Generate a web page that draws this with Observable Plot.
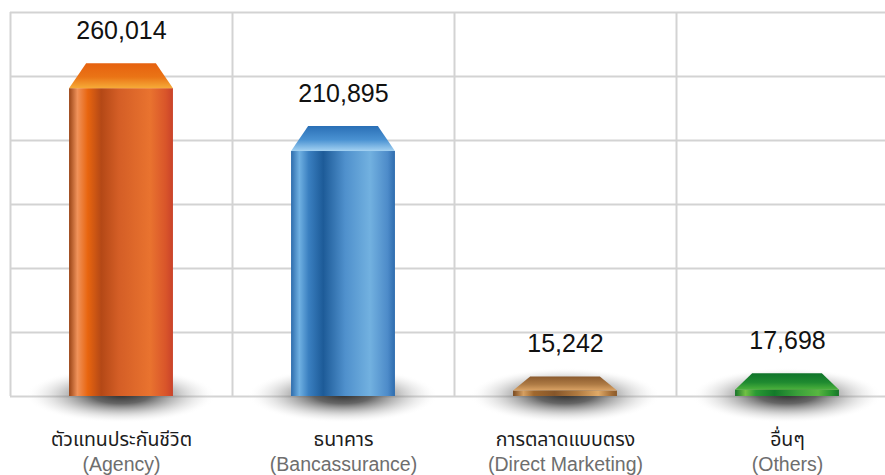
<!DOCTYPE html>
<html><head><meta charset="utf-8">
<script src="https://cdn.jsdelivr.net/npm/d3@7"></script>
<script src="https://cdn.jsdelivr.net/npm/@observablehq/plot@0.6"></script>
<style>
html,body{margin:0;padding:0;background:#fff;overflow:hidden;}
#chart svg{display:block;overflow:hidden;}
</style>
</head><body>
<svg width="0" height="0" style="position:absolute"><defs id="grads"></defs></svg>
<div id="chart"></div>
<script>
// ---- data ----
const categoriesTh = ["ตัวแทนประกันชีวิต", "ธนาคาร", "การตลาดแบบตรง", "อื่นๆ"];
const categoriesEn = ["(Agency)", "(Bancassurance)", "(Direct Marketing)", "(Others)"];
const values = [260014, 210895, 15242, 17698];
const yTicks = [0, 50000, 100000, 150000, 200000, 250000, 300000];

// ---- styles (gradients) ----
const bodyStops = [
  [[0,"#9a4416"],[0.08,"#f0925a"],[0.18,"#e8650f"],[0.31,"#b44816"],[0.48,"#d45e26"],[0.78,"#e9732f"],[0.93,"#d9552a"],[1,"#c9422a"]],
  [[0,"#2d6cac"],[0.08,"#6fb0e2"],[0.17,"#3a7fc0"],[0.31,"#1d5b98"],[0.52,"#4f90cc"],[0.76,"#72b1e0"],[0.93,"#4d8bc9"],[1,"#2e6cae"]],
  [[0,"#7a4a20"],[0.1,"#d6a062"],[0.2,"#a0682e"],[0.4,"#86562a"],[0.62,"#b07a40"],[0.82,"#e0aa68"],[0.95,"#a06a34"],[1,"#8a5a2a"]],
  [[0,"#17742a"],[0.1,"#72c044"],[0.2,"#2a9a34"],[0.38,"#137a2a"],[0.6,"#3aa03a"],[0.8,"#58b640"],[0.94,"#24902e"],[1,"#17742a"]]
];
const capStops = [
  [[0,"#e6610f"],[0.55,"#ea7416"],[1,"#f6ab38"]],
  [[0,"#2a6fb6"],[0.55,"#4a92d2"],[1,"#a4d2f2"]],
  [[0,"#8a5a2e"],[0.55,"#ad7a44"],[1,"#dca466"]],
  [[0,"#0f742a"],[0.55,"#1f8a30"],[1,"#4cb23c"]]
];

const ns = "http://www.w3.org/2000/svg";
const defs = document.getElementById("grads");
function grad(id, stops, vertical) {
  const g = document.createElementNS(ns, "linearGradient");
  g.setAttribute("id", id);
  g.setAttribute("x1", "0"); g.setAttribute("y1", "0");
  g.setAttribute("x2", vertical ? "0" : "1"); g.setAttribute("y2", vertical ? "1" : "0");
  for (const [o, c] of stops) {
    const s = document.createElementNS(ns, "stop");
    s.setAttribute("offset", o); s.setAttribute("stop-color", c);
    g.appendChild(s);
  }
  defs.appendChild(g);
}
bodyStops.forEach((s, i) => grad("body" + i, s, false));
capStops.forEach((s, i) => grad("cap" + i, s, true));
{
  const r = document.createElementNS(ns, "radialGradient");
  r.setAttribute("id", "shadow");
  [[0,"#333333",1],[0.3,"#4a4a4a",0.85],[0.6,"#808080",0.45],[0.85,"#bbbbbb",0.15],[1,"#ffffff",0]].forEach(([o,c,op]) => {
    const s = document.createElementNS(ns, "stop");
    s.setAttribute("offset", o); s.setAttribute("stop-color", c); s.setAttribute("stop-opacity", op);
    r.appendChild(s);
  });
  defs.appendChild(r);
}

// ---- derived geometry ----
const hw = 0.234, inset = 0.077, shw = 0.43;
const rows = values.map((v, i) => ({
  i, th: categoriesTh[i], en: categoriesEn[i], value: v,
  bodyTop: v - Math.min(19500, 0.72 * v)
}));

const marks = [
  Plot.ruleY(yTicks, {x1: 0, x2: 4, stroke: "#d3d3d3", strokeWidth: 2}),
  Plot.ruleX([0, 1, 2, 3], {y1: 0, y2: 300000, stroke: "#d3d3d3", strokeWidth: 2}),
  Plot.rect(rows, {x1: d => d.i + 0.5 - shw, x2: d => d.i + 0.5 + shw, y1: -21000, y2: 22000, fill: "url(#shadow)"})
];
rows.forEach((d, i) => {
  const c = i + 0.5;
  marks.push(Plot.rect([d], {x1: c - hw, x2: c + hw, y1: 0, y2: "bodyTop", fill: `url(#body${i})`}));
  const pts = [
    {x: c - hw, y1: d.bodyTop, y2: d.bodyTop},
    {x: c - hw + inset, y1: d.bodyTop, y2: d.value},
    {x: c + hw - inset, y1: d.bodyTop, y2: d.value},
    {x: c + hw, y1: d.bodyTop, y2: d.bodyTop}
  ];
  marks.push(Plot.areaY(pts, {x: "x", y1: "y1", y2: "y2", fill: `url(#cap${i})`}));
});
marks.push(
  Plot.text(rows, {x: d => d.i + 0.5, y: "value", text: d => d3.format(",")(d.value), dy: -33,
    fontSize: 25, fill: "#111", fontFamily: "'Liberation Sans', Arial, sans-serif"}),
  Plot.text(rows, {x: d => d.i + 0.5, y: () => 0, text: "th", dy: 43,
    fontSize: 19.5, fill: "#1c1c1c", fontFamily: "'Noto Sans Thai', 'Noto Sans', 'DejaVu Sans', sans-serif"}),
  Plot.text(rows, {x: d => d.i + 0.5, y: () => 0, text: "en", dy: 68.5,
    fontSize: 19.5, fill: "#6e6e6e", fontFamily: "'Liberation Sans', Arial, sans-serif"})
);

const chart = Plot.plot({
  width: 885, height: 475,
  margin: 0,
  x: {domain: [0, 4], range: [10, 898], axis: null},
  y: {domain: [0, 300000], range: [396, 12], axis: null},
  marks
});
document.getElementById("chart").appendChild(chart);
</script>
</body></html>
